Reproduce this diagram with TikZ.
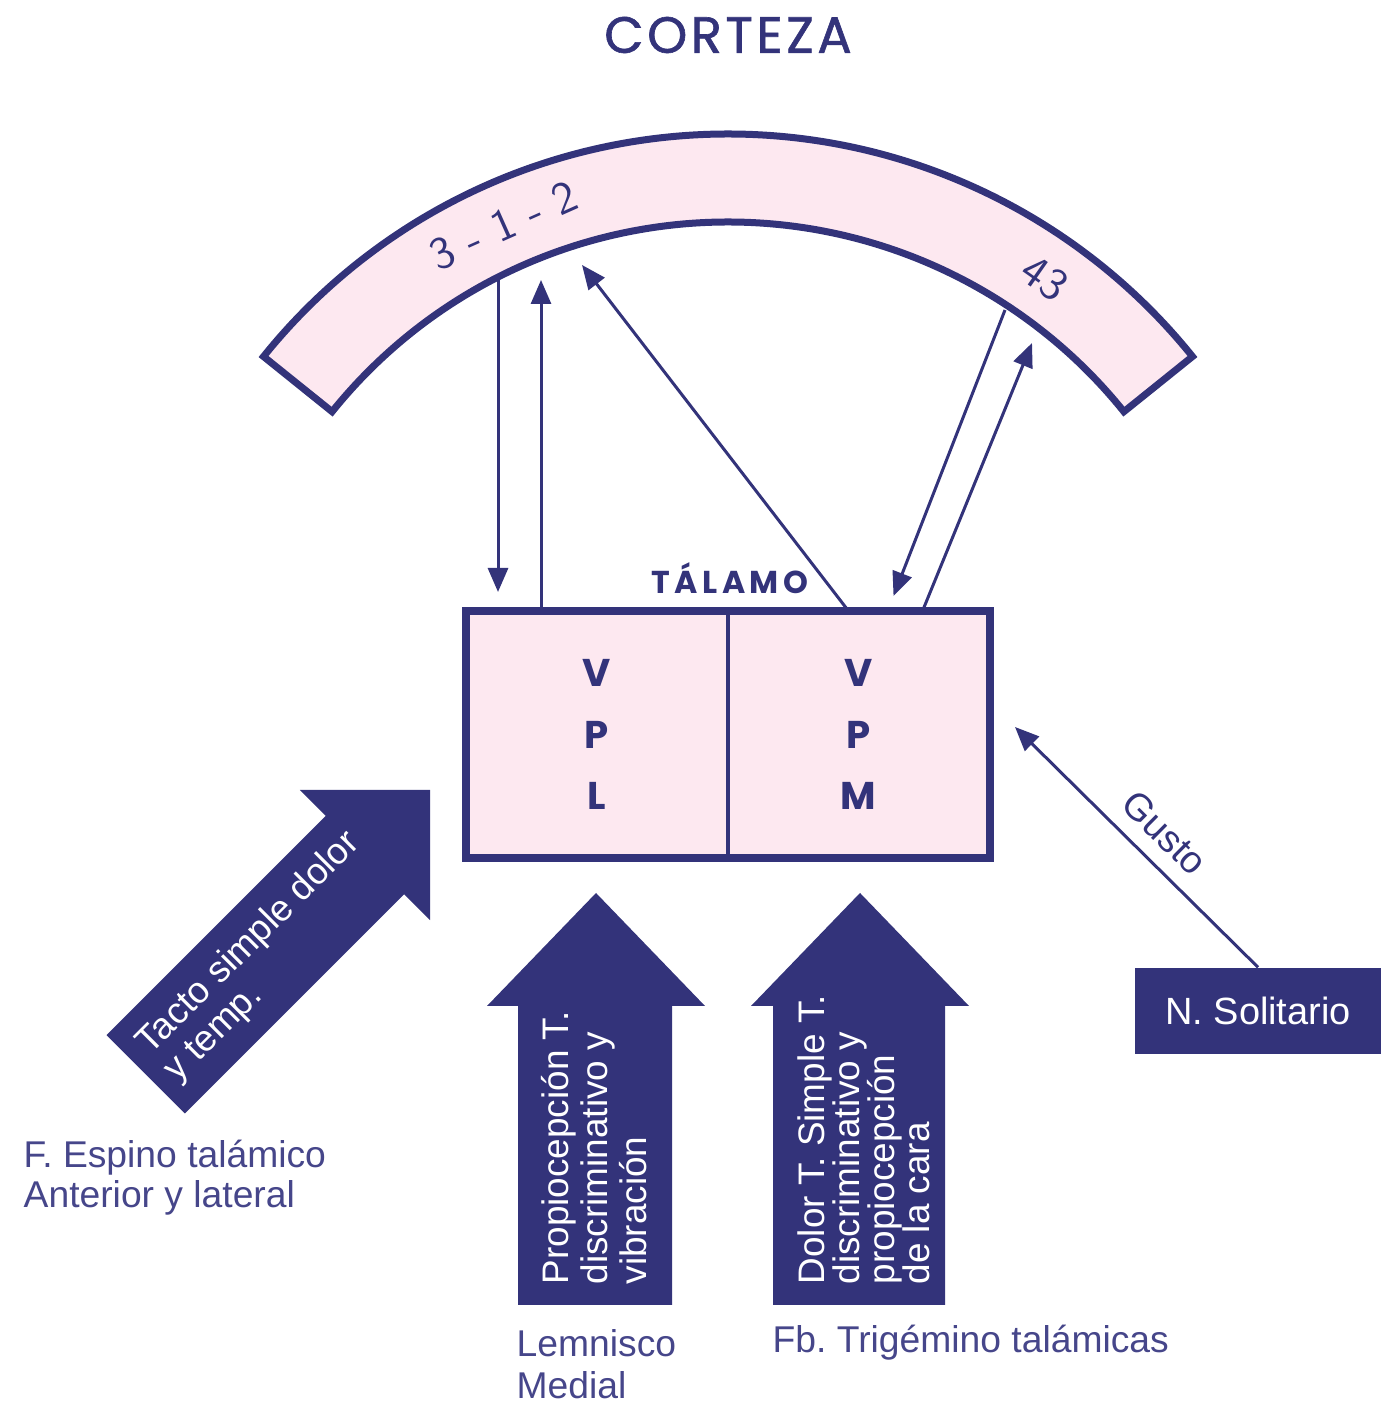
\documentclass[tikz,border=0pt]{standalone}
\usepackage{fontspec}
\setmainfont{Liberation Sans}
\newfontfamily\geofont{Poppins}
\usetikzlibrary{arrows.meta,positioning,calc}
\definecolor{navy}{RGB}{51,51,122}
\definecolor{rosa}{RGB}{253,232,240}
\definecolor{tinta}{RGB}{70,70,138}
\frenchspacing
\tikzset{
  fibra/.style={draw=navy, line width=0.03cm, -{Triangle[length=0.24cm,width=0.2cm]}},
  nucleo/.style={fill=rosa, outer sep=0pt, minimum width=2.62cm, minimum height=2.47cm, align=center, text=navy, font=\geofont\bfseries\fontsize{11}{17.6}\selectfont},
  rotulo/.style={text=tinta, inner sep=0pt, align=left, font=\fontsize{10.6}{11.4}\selectfont},
  dentro/.style={text=white, inner sep=0pt, align=left, font=\fontsize{10.5}{11}\selectfont},
}
\begin{document}
\begin{tikzpicture}
\useasboundingbox (0,0) rectangle (13.83,14.04);
\coordinate (C) at (7.28,6.74);
\node[text=navy, font=\geofont\addfontfeature{LetterSpace=7,FakeBold=1.2}\fontsize{14.5}{14.5}\selectfont] (Corteza) at (7.28,13.69) {CORTEZA};

% corteza
\draw[navy, line width=0.07cm, fill=rosa] ($(C)+(141.2:5.96)$) arc (141.2:38.8:5.96) -- ($(C)+(38.8:5.08)$) arc (38.8:141.2:5.08) -- cycle;
\node[text=navy, rotate=24, font=\sffamily\fontsize{13}{13}\selectfont] (A312) at ($(C)+(114:5.52)$) {3 - 1 - 2};
\node[text=navy, rotate=-35, font=\sffamily\fontsize{13}{13}\selectfont] (A43) at ($(C)+(55:5.52)$) {43};

% talamo
\node[nucleo] (VPL) at (5.97,6.695) {V\\P\\L};
\node[nucleo] (VPM) at (8.585,6.695) {V\\P\\M};
\draw[navy, line width=0.08cm] (VPL.north west) rectangle (VPM.south east);
\draw[navy, line width=0.04cm] (VPL.north east) -- (VPL.south east);
\node[text=navy, font=\geofont\bfseries\addfontfeature{LetterSpace=14}\fontsize{9}{9}\selectfont] (Talamo) at (7.30,8.26) {TÁLAMO};

\coordinate (C1) at (4.98,11.24);
\coordinate (C2) at (5.41,11.24);
\coordinate (C3) at (5.82,11.39);
\coordinate (C4) at (10.05,10.94);
\coordinate (C5) at (10.32,10.61);
\draw[fibra, shorten >=0.19cm] (C1) -- (C1 |- VPL.north);
\draw[fibra] (VPL.north -| C2) -- (C2);
\draw[fibra] ($(VPM.north)+(-0.1,0)$) -- (C3);
\draw[fibra] (C4) -- ($(VPM.north)+(0.35,0.15)$);
\draw[fibra] ($(VPM.north)+(0.64,0)$) -- (C5);

% gusto
\node[fill=navy, text=white, minimum width=2.46cm, minimum height=0.86cm, font=\fontsize{10.8}{12}\selectfont] (Sol) at (12.58,3.93) {N. Solitario};
\coordinate (G) at (10.15,6.77);
\draw[fibra] (Sol.north) -- node[pos=0.47, sloped, above=1pt, text=navy, font=\fontsize{10.8}{12}\selectfont] (Gusto) {Gusto} (G);

% vias
\begin{scope}[shift={(4.30,6.14)}, rotate=45]
\fill[navy] (0,0) -- (-0.92,0.92) -- (-0.92,0.555) -- (-4.02,0.555) -- (-4.02,-0.555) -- (-0.92,-0.555) -- (-0.92,-0.92) -- cycle;
\node[dentro, anchor=west, rotate=45] (Tacto) at (-3.86,0) {Tacto simple dolor\\y temp.};
\end{scope}
\fill[navy] (5.96,5.11) -- (7.05,3.98) -- (6.72,3.98) -- (6.72,0.99) -- (5.18,0.99) -- (5.18,3.98) -- (4.87,3.98) -- cycle;
\node[dentro, anchor=west, rotate=90] (Propio) at (5.94,1.19) {Propiocepción T.\\discriminativo y\\vibración};
\fill[navy] (8.60,5.11) -- (9.69,3.98) -- (9.45,3.98) -- (9.45,0.99) -- (7.73,0.99) -- (7.73,3.98) -- (7.51,3.98) -- cycle;
\node[dentro, anchor=west, rotate=90, font=\fontsize{10.5}{10}\selectfont] (Dolor) at (8.64,1.19) {Dolor T. Simple T.\\discriminativo y\\propiocepción\\de la cara};

\node[rotulo, anchor=west] (Espino) at (0.23,2.26) {F. Espino talámico\\Anterior y lateral};
\node[rotulo, anchor=west, font=\fontsize{10.6}{12}\selectfont] (Lemnisco) at (5.16,0.40) {Lemnisco\\Medial};
\node[rotulo, anchor=west] (Trigemino) at (7.72,0.61) {Fb. Trigémino talámicas};
\end{tikzpicture}
\end{document}
